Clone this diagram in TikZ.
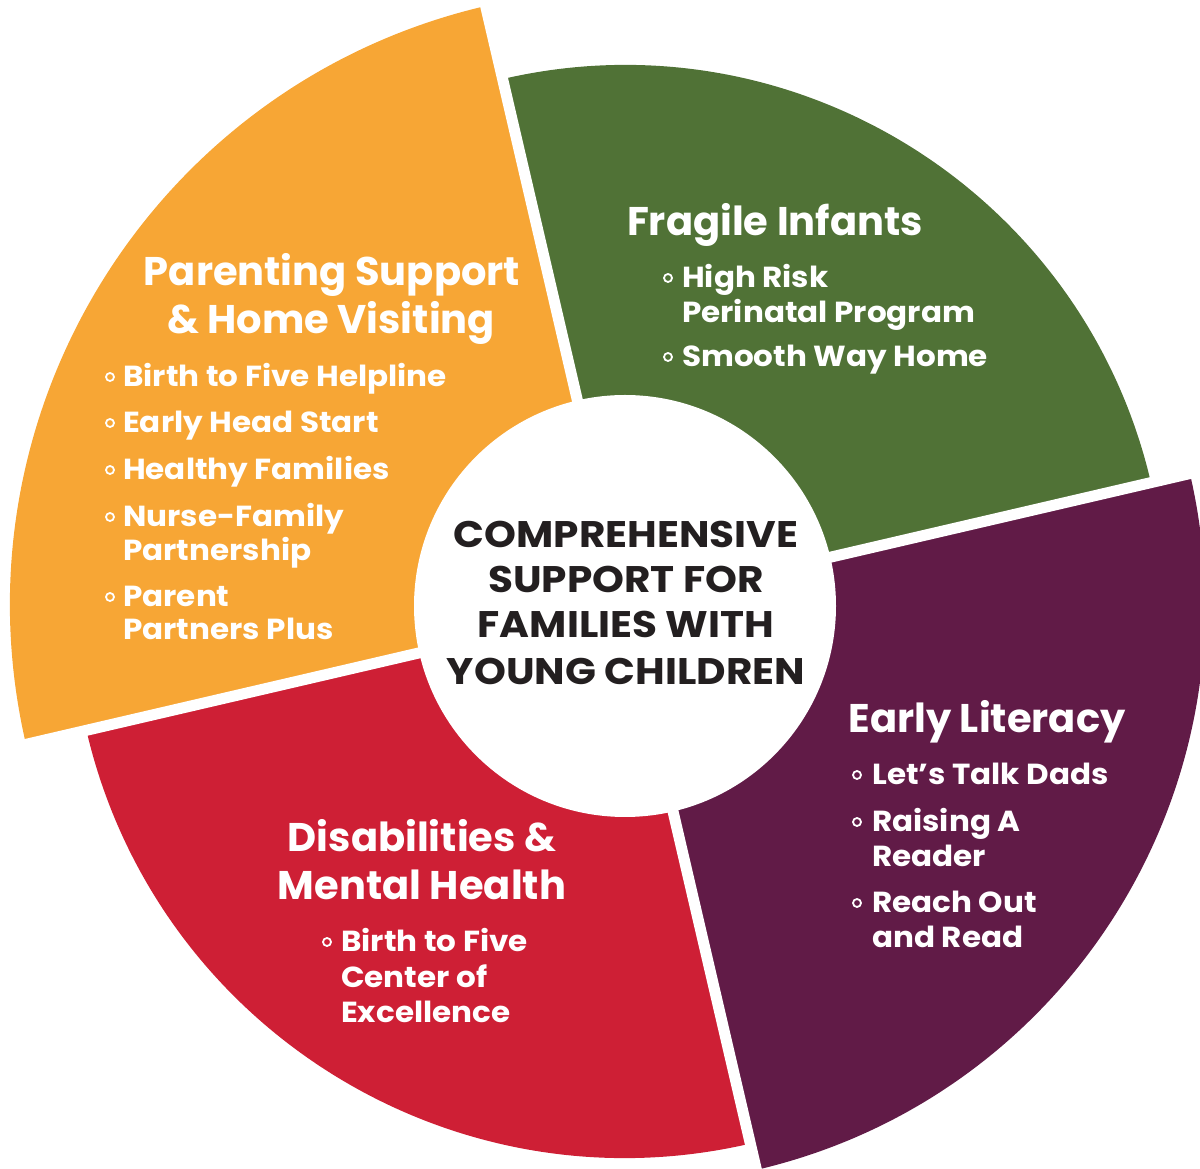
\documentclass[tikz,border=0pt]{standalone}
\usepackage{fontspec}
\usetikzlibrary{calc}
\setmainfont{Poppins}
\newfontfamily\itemface{Poppins}[FakeStretch=1.07]
\newfontfamily\coreface{Poppins}[FakeStretch=1.097]
\definecolor{orng}{RGB}{247,166,53}
\definecolor{grn}{RGB}{80,114,54}
\definecolor{plum}{RGB}{97,27,71}
\definecolor{rd}{RGB}{206,31,53}
\definecolor{ink}{RGB}{35,31,32}
\tikzset{
  head/.style={text=white, font=\fontsize{40}{48}\selectfont\bfseries, inner sep=0, anchor=base},
  itemtxt/.style={text=white, font=\itemface\fontsize{29}{34}\selectfont\bfseries, inner sep=0, anchor=base west},
  dotmark/.style={circle, draw=white, line width=1.8pt, minimum size=8pt, inner sep=0},
  core/.style={text=ink, font=\coreface\fontsize{37}{44}\selectfont\bfseries, inner sep=0, anchor=base},
  gapline/.style={white, line width=11pt},
}
\begin{document}
\begin{tikzpicture}[x=1pt,y=1pt]
\useasboundingbox (0,0) rectangle (1200,1168);
\clip (0,0) rectangle (1200,1168);
\coordinate (C) at (625,563);
% sectors
\fill[grn]  (C) -- ++(13.1:540) arc[start angle=13.1, end angle=103.1, radius=540] -- cycle;
\fill[orng] (C) -- ++(103.1:615) arc[start angle=103.1, end angle=193.1, radius=615] -- cycle;
\fill[rd]   (C) -- ++(193.1:553) arc[start angle=193.1, end angle=283.1, radius=553] -- cycle;
\fill[plum] (C) -- ++(-76.9:580) arc[start angle=-76.9, end angle=13.1, radius=580] -- cycle;
% gaps
\coordinate (g1) at ($(C)+(13.1:700)$);
\coordinate (g2) at ($(C)+(103.1:700)$);
\coordinate (g3) at ($(C)+(193.1:700)$);
\coordinate (g4) at ($(C)+(283.1:700)$);
\draw[gapline] (C) -- (g1);
\draw[gapline] (C) -- (g2);
\draw[gapline] (C) -- (g3);
\draw[gapline] (C) -- (g4);
% hub
\node[circle, fill=white, minimum size=422pt, inner sep=0] (hub) at (625,562) {};
\node[core] (c1) at (626,620) {COMPREHENSIVE};
\node[core] (c2) at (626,575) {SUPPORT FOR};
\node[core] (c3) at (626,530) {FAMILIES WITH};
\node[core] (c4) at (626,483) {YOUNG CHILDREN};
% Parenting
\node[head] (p0a) at (332,882) {Parenting Support};
\node[head] (p0b) at (331,834) {\& Home Visiting};
\node[itemtxt] (p1) at (123,781) {Birth to Five Helpline};
\node[itemtxt] (p2) at (123,735) {Early Head Start};
\node[itemtxt] (p3) at (123,688) {Healthy Families};
\node[itemtxt] (p4) at (123,641) {Nurse-Family};
\node[itemtxt] (p4b) at (123,607) {Partnership};
\node[itemtxt] (p5) at (123,561) {Parent};
\node[itemtxt] (p5b) at (123,528) {Partners Plus};
\node[dotmark] (pb1) at (110,791) {};
\node[dotmark] (pb2) at (110,745) {};
\node[dotmark] (pb3) at (110,698) {};
\node[dotmark] (pb4) at (110,651) {};
\node[dotmark] (pb5) at (110,571) {};
% Fragile
\node[head] (f0) at (775,932) {Fragile Infants};
\node[itemtxt] (f1) at (682,880) {High Risk};
\node[itemtxt] (f1b) at (682,845) {Perinatal Program};
\node[itemtxt] (f2) at (682,801) {Smooth Way Home};
\node[dotmark] (fb1) at (668,890) {};
\node[dotmark] (fb2) at (668,811) {};
% Early Literacy
\node[head] (e0) at (987,435) {Early Literacy};
\node[itemtxt] (e1) at (872,383) {Let’s Talk Dads};
\node[itemtxt] (e2) at (872,336) {Raising A};
\node[itemtxt] (e2b) at (872,301) {Reader};
\node[itemtxt] (e3) at (872,255) {Reach Out};
\node[itemtxt] (e3b) at (872,220) {and Read};
\node[dotmark] (eb1) at (857,393) {};
\node[dotmark] (eb2) at (857,346) {};
\node[dotmark] (eb3) at (857,265) {};
% Disabilities
\node[head] (d0a) at (422,316) {Disabilities \&};
\node[head] (d0b) at (422,268) {Mental Health};
\node[itemtxt] (d1) at (341,216) {Birth to Five};
\node[itemtxt] (d1b) at (341,180) {Center of};
\node[itemtxt] (d1c) at (341,145) {Excellence};
\node[dotmark] (db1) at (327,226) {};
\end{tikzpicture}
\end{document}
